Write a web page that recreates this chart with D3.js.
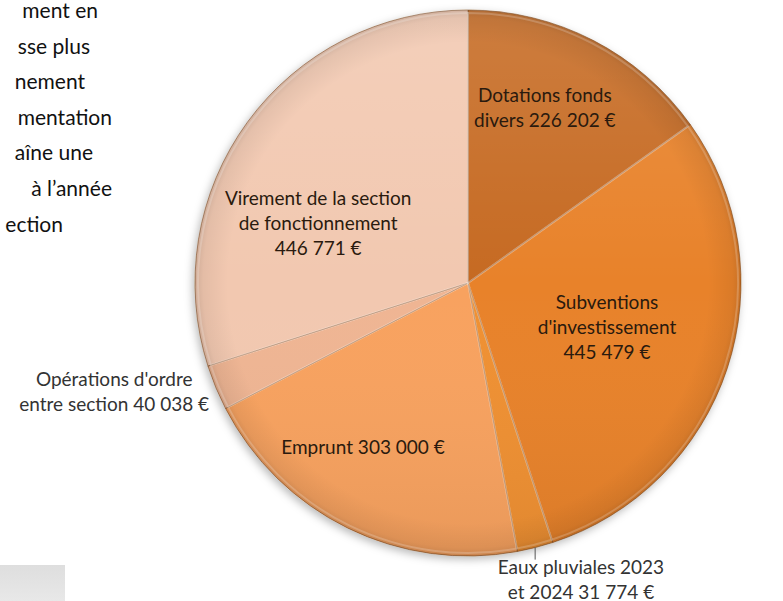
<!DOCTYPE html>
<html>
<head>
<meta charset="utf-8">
<script src="https://cdn.jsdelivr.net/npm/d3@7"></script>
<style>
  body { margin: 0; background: #fff; }
  svg { display: block; }
</style>
</head>
<body>
<div id="chart"></div>
<script>
// recettes d'investissement - camembert
const w = 783;
const h = 601;

const categories = [
  "Dotations fonds divers",
  "Subventions d'investissement",
  "Eaux pluviales 2023 et 2024",
  "Emprunt",
  "Opérations d'ordre entre section",
  "Virement de la section de fonctionnement"
];
const values = [226202, 445479, 31774, 303000, 40038, 446771];
const labelLines = [
  ["Dotations fonds", "divers 226 202 €"],
  ["Subventions", "d'investissement", "445 479 €"],
  ["Eaux pluviales 2023", "et 2024 31 774 €"],
  ["Emprunt 303 000 €"],
  ["Opérations d'ordre", "entre section 40 038 €"],
  ["Virement de la section", "de fonctionnement", "446 771 €"]
];
const colors = ["#c66a20", "#e8822a", "#ef9033", "#f8a25e", "#efb593", "#f2c8b0"];

// bout de texte coupé à gauche de l'image
const paraLines = ["ment en", "sse plus", "nement", "mentation", "aîne une", "à l\u2019année", "ection"];
const paraEnds = [98, 90, 85, 112, 93, 112, 63];

// where the labels sit: [angle in degrees, fraction of radius]
const labelSpots = [[23.7, 0.70], [107.9, 0.535], [159.2, 1.165], [212.5, 0.716], [252.9, 1.356], [291.5, 0.59]];

const cx = 468, cy = 283, r = 273;
const lineH = 25;

let svg = d3.select("#chart").append("svg")
  .attr("width", w)
  .attr("height", h);

let defs = svg.append("defs");
let shadow = defs.append("filter").attr("id", "shadow")
  .attr("x", "-10%").attr("y", "-10%").attr("width", "120%").attr("height", "120%");
shadow.append("feDropShadow")
  .attr("dx", -2).attr("dy", 3).attr("stdDeviation", 4)
  .attr("flood-color", "#000").attr("flood-opacity", 0.28);

let light = defs.append("linearGradient").attr("id", "light")
  .attr("x1", 0).attr("y1", 0).attr("x2", 0).attr("y2", 1);
light.append("stop").attr("offset", "0%").attr("stop-color", "#fff").attr("stop-opacity", 0.13);
light.append("stop").attr("offset", "50%").attr("stop-color", "#fff").attr("stop-opacity", 0);
light.append("stop").attr("offset", "100%").attr("stop-color", "#000").attr("stop-opacity", 0.06);

let rim = defs.append("radialGradient").attr("id", "rim")
  .attr("cx", "50%").attr("cy", "50%").attr("r", "50%");
rim.append("stop").attr("offset", "88%").attr("stop-color", "#000").attr("stop-opacity", 0);
rim.append("stop").attr("offset", "97%").attr("stop-color", "#000").attr("stop-opacity", 0.06);
rim.append("stop").attr("offset", "100%").attr("stop-color", "#000").attr("stop-opacity", 0.14);

let greyBox = defs.append("linearGradient").attr("id", "grey")
  .attr("x1", 0).attr("y1", 0).attr("x2", 0).attr("y2", 1);
greyBox.append("stop").attr("offset", "0%").attr("stop-color", "#dedede");
greyBox.append("stop").attr("offset", "100%").attr("stop-color", "#e8e8e8");

// texte du paragraphe
svg.append("g")
  .selectAll("text")
  .data(paraLines)
  .enter()
  .append("text")
    .attr("x", (d, i) => paraEnds[i])
    .attr("y", (d, i) => 18 + i * 35.6)
    .attr("text-anchor", "end")
    .attr("font-family", "Lato, 'Open Sans', sans-serif")
    .attr("font-size", 21)
    .attr("fill", "#111")
    .text(d => d);

svg.append("rect")
  .attr("x", 0).attr("y", 565)
  .attr("width", 65).attr("height", h - 565)
  .attr("fill", "url(#grey)");

let pie = d3.pie().sort(null).value(d => d);
let arcs = pie(values);

let arc = d3.arc().innerRadius(0).outerRadius(r);
let inner = d3.arc().innerRadius(0).outerRadius(r - 3);

let g = svg.append("g")
  .attr("transform", "translate(" + cx + "," + cy + ")");

let slices = g.append("g").attr("filter", "url(#shadow)");

slices.selectAll("path.slice")
  .data(arcs)
  .enter()
  .append("path")
    .attr("class", "slice")
    .attr("d", arc)
    .attr("fill", (d, i) => colors[i])
    .attr("stroke", "#7a4418")
    .attr("stroke-opacity", 0.55)
    .attr("stroke-width", 1);

// highlight overlay + darker rim
g.append("circle")
  .attr("r", r)
  .attr("fill", "url(#light)")
  .attr("pointer-events", "none");
g.append("circle")
  .attr("r", r)
  .attr("fill", "url(#rim)")
  .attr("pointer-events", "none");

// bevel edge highlight
g.selectAll("path.bevel")
  .data(arcs)
  .enter()
  .append("path")
    .attr("class", "bevel")
    .attr("d", inner)
    .attr("fill", "none")
    .attr("stroke", "#fff")
    .attr("stroke-opacity", 0.2)
    .attr("stroke-width", 2);

// leader line for the small slice
let eaux = arcs[2];
let mid = (eaux.startAngle + eaux.endAngle) / 2;
let p0 = d3.pointRadial(mid, r);
g.append("line")
  .attr("x1", p0[0]).attr("y1", p0[1])
  .attr("x2", p0[0]).attr("y2", p0[1] + 12)
  .attr("stroke", "#555")
  .attr("stroke-width", 1);

// labels
g.selectAll("text.lbl")
  .data(arcs)
  .enter()
  .append("text")
    .attr("class", "lbl")
    .attr("text-anchor", "middle")
    .attr("font-family", "Lato, 'Open Sans', sans-serif")
    .attr("font-size", 19)
    .attr("fill", (d, i) => (i === 2 || i === 4) ? "#333" : "#2a1a0e")
    .each(function(d, i) {
      let spot = labelSpots[i];
      let p = d3.pointRadial(spot[0] * Math.PI / 180, spot[1] * r);
      let lines = labelLines[i];
      let t = d3.select(this);
      lines.forEach((line, j) => {
        t.append("tspan")
          .attr("x", p[0])
          .attr("y", p[1] + (j - (lines.length - 1) / 2) * lineH + 6.5)
          .text(line);
      });
    });
</script>
</body>
</html>
